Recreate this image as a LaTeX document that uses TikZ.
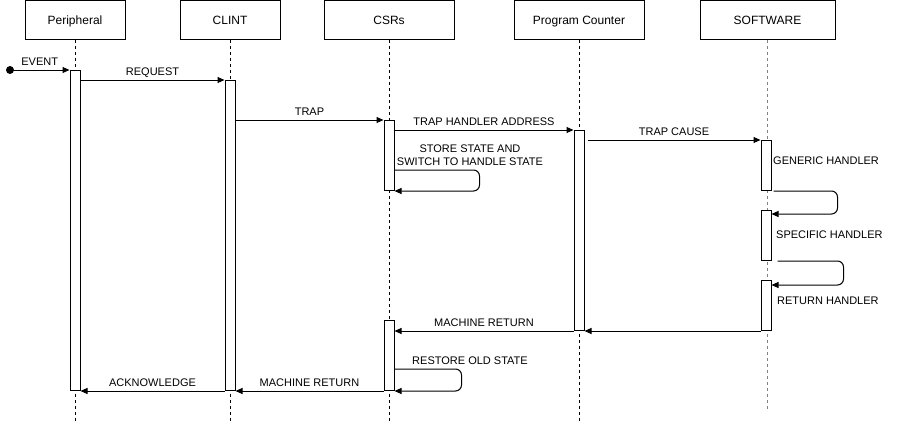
\documentclass[tikz,border=0pt]{standalone}
\usepackage{fontspec}
\setmainfont{Liberation Sans}
\usetikzlibrary{arrows.meta}
\tikzstyle{head} = [rectangle, minimum height=39pt, text centered, text height=10pt, text depth=1pt, draw=black, line width=1pt, font=\fontsize{12}{14}\selectfont]
\tikzstyle{bar} = [rectangle, anchor=north, minimum width=10pt, inner sep=0pt, draw=black, fill=white, line width=1pt]
\tikzstyle{lifeline} = [line width=1pt, dash pattern=on 3pt off 3pt]
\tikzstyle{arrow} = [line width=1pt, -{Triangle[length=7pt,width=6pt]}]
\tikzstyle{msg} = [above=2.5pt, inner sep=2pt, text height=8pt, text depth=0pt, font=\fontsize{11}{13}\selectfont]
\tikzstyle{note} = [inner sep=0pt, font=\fontsize{11}{13}\selectfont]

\begin{document}
\begin{tikzpicture}[x=1pt, y=-1pt]
    \useasboundingbox (0,0) rectangle (897,421);

        % Headers
        \node (per) [head, minimum width=100pt] at (75,20) {Peripheral};
        \node (clint) [head, minimum width=100pt] at (230,20) {CLINT};
        \node (csr) [head, minimum width=130pt] at (389,20) {CSRs};
        \node (pc) [head, minimum width=130pt] at (579,20) {Program Counter};
        \node (sw) [head, minimum width=135pt] at (767.5,20) {SOFTWARE};

        % Lifelines
        \coordinate (perEnd) at (75,421);
        \coordinate (clintEnd) at (230,421);
        \coordinate (csrEnd) at (389,421);
        \coordinate (pcEnd) at (579,421);
        \coordinate (swEnd) at (767.5,409);
        \draw [lifeline] (per.south) -- (perEnd);
        \draw [lifeline] (clint.south) -- (clintEnd);
        \draw [lifeline] (csr.south) -- (csrEnd);
        \draw [lifeline] (pc.south) -- (pcEnd);
        \draw [lifeline, gray] (sw.south) -- (swEnd);

        % Activation bars
        \node (perBar) [bar, minimum height=320pt] at (75,70) {};
        \node (clintBar) [bar, minimum height=310pt] at (230,80) {};
        \node (csrBarA) [bar, minimum height=70pt] at (389,120) {};
        \node (csrBarB) [bar, minimum height=70pt] at (389,320) {};
        \node (pcBar) [bar, minimum height=200pt] at (579,130) {};
        \node (swBarA) [bar, minimum height=50pt] at (766,140) {};
        \node (swBarB) [bar, minimum height=50pt] at (766,210) {};
        \node (swBarC) [bar, minimum height=50pt] at (766,280) {};
        \node (eventDot) [circle, fill=black, inner sep=0pt, minimum size=8pt] at (10,70) {};

        % Texts
        \node (storeText) [note, align=center] at (470,155) {STORE STATE AND\\SWITCH TO HANDLE STATE};
        \node (restoreText) [note] at (470,361) {RESTORE OLD STATE};
        \node (genericText) [note, anchor=west] at (773,161) {GENERIC HANDLER};
        \node (specificText) [note, anchor=west] at (776,235) {SPECIFIC HANDLER};
        \node (returnText) [note, anchor=west] at (777,301) {RETURN HANDLER};

        % Arrows
        \draw [arrow] (eventDot.center) -- (perBar.north west) node [msg, midway] {EVENT};
        \draw [arrow] (perBar.east |- clintBar.north) -- (clintBar.north west) node [msg, midway] {REQUEST};
        \draw [arrow] (clintBar.east |- csrBarA.north) -- (csrBarA.north west) node [msg, midway] {TRAP};
        \draw [arrow] (csrBarA.east |- pcBar.north) -- (pcBar.north west) node [msg, midway] {TRAP HANDLER ADDRESS};
        \draw [arrow] ([xshift=3pt]pcBar.east |- swBarA.north) -- (swBarA.north west) node [msg, midway] {TRAP CAUSE};
        \draw [arrow, rounded corners=6pt] ([yshift=21pt]csrBarA.south east) -- ++(85,0) |- (csrBarA.south east);
        \draw [arrow, rounded corners=6pt] ([xshift=2pt]swBarA.south east) -- ++(64,0) |- ([yshift=-4pt]swBarB.north east);
        \draw [arrow, rounded corners=6pt] ([xshift=6pt]swBarB.south east) -- ++(66,0) |- ([yshift=-5pt]swBarC.north east);
        \draw [arrow] (swBarC.south west) -- (pcBar.south east);
        \draw [arrow] (pcBar.south west) -- (csrBarB.east |- pcBar.south) node [msg, midway] {MACHINE RETURN};
        \draw [arrow, rounded corners=6pt] ([yshift=22pt]csrBarB.south east) -- ++(67,0) |- (csrBarB.south east);
        \draw [arrow] (csrBarB.south west) -- (clintBar.south east) node [msg, midway] {MACHINE RETURN};
        \draw [arrow] (clintBar.south west) -- (perBar.south east) node [msg, midway] {ACKNOWLEDGE};

        \end{tikzpicture}
\end{document}
